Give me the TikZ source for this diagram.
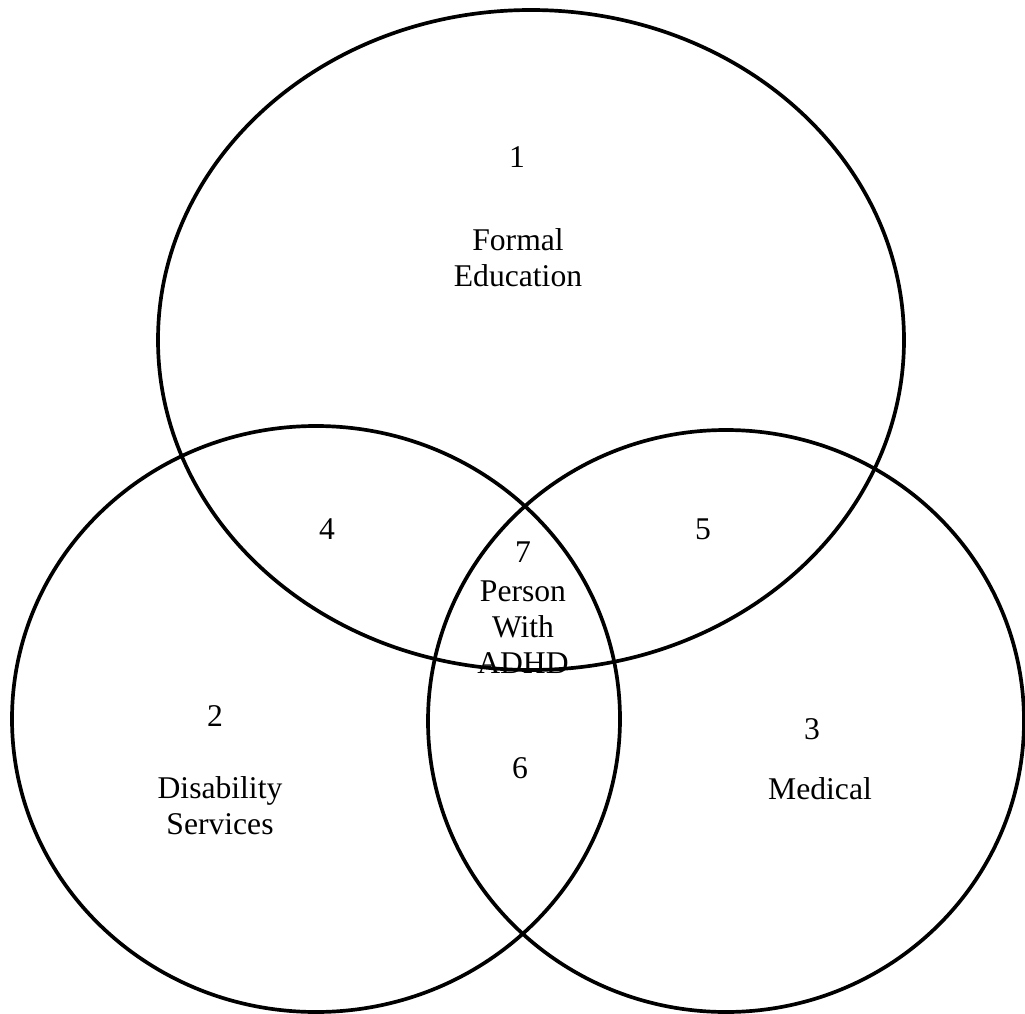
\documentclass[tikz,border=0pt]{standalone}
\usepackage{fontspec}
\setmainfont{Liberation Serif}
\usetikzlibrary{positioning}

\begin{document}
\begin{tikzpicture}[
  x=0.02cm, y=-0.02cm,
  ring/.style={draw, line width=2.1pt},
  lbl/.style={font=\fontsize{18}{20.5}\selectfont, align=center, inner sep=0pt}
]
\useasboundingbox (0,0) rectangle (1025,1014);
% the three areas
\draw[ring] (531,340) ellipse [x radius=373, y radius=330];
\draw[ring] (316,719) ellipse [x radius=304, y radius=293];
\draw[ring] (726,721) ellipse [x radius=298, y radius=291];

% numbers
\node[lbl] (n1) at (517,157) {1};
\node[lbl] (n2) at (215,716) {2};
\node[lbl] (n3) at (812,729) {3};
\node[lbl] (n4) at (327,529) {4};
\node[lbl] (n5) at (703,529) {5};
\node[lbl] (n6) at (520,768) {6};
\node[lbl] (n7) at (523,552) {7};

% names
\node[lbl] (edu) at (518,258) {Formal\\Education};
\node[lbl] (dis) at (220,806) {Disability\\Services};
\node[lbl] (med) at (820,789) {Medical};
\node[lbl, below=10pt of n7] (adhd) {Person\\With\\ADHD};
\end{tikzpicture}
\end{document}
